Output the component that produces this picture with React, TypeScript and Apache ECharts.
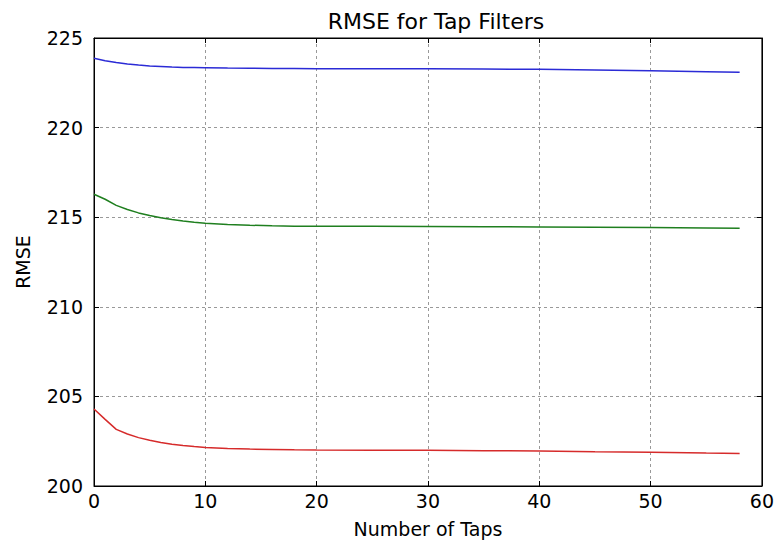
import React, { useEffect, useRef } from "react";
import * as echarts from "echarts";

const taps = [0, 1, 2, 3, 4, 5, 6, 7, 8, 9, 10, 12, 14, 16, 18, 20, 25, 30, 35, 40, 45, 50, 55, 58];
const blueRmse = [223.87, 223.73, 223.63, 223.55, 223.49, 223.44, 223.41, 223.38, 223.36, 223.35, 223.34, 223.32, 223.31, 223.3, 223.3, 223.29, 223.29, 223.28, 223.27, 223.25, 223.21, 223.17, 223.12, 223.09];
const greenRmse = [216.28, 216.0, 215.66, 215.43, 215.24, 215.09, 214.97, 214.87, 214.79, 214.72, 214.66, 214.59, 214.55, 214.52, 214.5, 214.49, 214.49, 214.48, 214.47, 214.46, 214.44, 214.42, 214.4, 214.38];
const redRmse = [204.3, 203.72, 203.16, 202.9, 202.7, 202.55, 202.43, 202.33, 202.26, 202.2, 202.15, 202.09, 202.06, 202.04, 202.02, 202.01, 202.0, 201.99, 201.97, 201.95, 201.91, 201.88, 201.84, 201.82];

const xTicks = [0, 10, 20, 30, 40, 50, 60];
const yTicks = [200, 205, 210, 215, 220, 225];

const FONT = "DejaVu Sans";

export default function App() {
  const ref = useRef<HTMLDivElement>(null);
  useEffect(() => {
    if (!ref.current) return;
    const chart = echarts.init(ref.current, null, { renderer: "svg" });
    const pair = (arr: number[]) => taps.map((t, i) => [t, arr[i]]);
    const axisCommon = {
      axisLine: { show: true, onZero: false, lineStyle: { color: "#000", width: 1 } },
      axisTick: { show: true, inside: true, length: 5, lineStyle: { color: "#000" } },
    };
    chart.setOption({
      animation: false,
      backgroundColor: "#fff",
      title: {
        text: "RMSE for Tap Filters",
        left: 431,
        textAlign: "center",
        top: 5,
        textStyle: { fontFamily: FONT, fontSize: 22, fontWeight: "normal", color: "#000" },
      },
      grid: { left: 94, right: 12, top: 38, bottom: 57, show: true, borderColor: "#000", borderWidth: 1 },
      xAxis: [
        {
          type: "value",
          min: xTicks[0],
          max: xTicks[xTicks.length - 1],
          interval: 10,
          name: "Number of Taps",
          nameLocation: "middle",
          nameGap: 33,
          nameTextStyle: { fontFamily: FONT, fontSize: 19, color: "#000" },
          ...axisCommon,
          axisLabel: { fontFamily: FONT, fontSize: 19, color: "#000", margin: 5 },
          splitLine: { show: true, lineStyle: { color: "#999", type: [3, 3], width: 1 } },
        },
        {
          type: "value",
          position: "top",
          min: xTicks[0],
          max: xTicks[xTicks.length - 1],
          interval: 10,
          ...axisCommon,
          axisLabel: { show: false },
          splitLine: { show: false },
        },
      ],
      yAxis: [
        {
          type: "value",
          min: yTicks[0],
          max: yTicks[yTicks.length - 1],
          interval: 5,
          name: "RMSE",
          nameLocation: "middle",
          nameGap: 62,
          nameRotate: 90,
          nameTextStyle: { fontFamily: FONT, fontSize: 19, color: "#000" },
          ...axisCommon,
          axisLabel: { fontFamily: FONT, fontSize: 19, color: "#000", margin: 11 },
          splitLine: { show: true, lineStyle: { color: "#999", type: [3, 3], width: 1 } },
        },
        {
          type: "value",
          position: "right",
          min: yTicks[0],
          max: yTicks[yTicks.length - 1],
          interval: 5,
          ...axisCommon,
          axisLabel: { show: false },
          splitLine: { show: false },
        },
      ],
      series: [
        { type: "line", data: pair(blueRmse), showSymbol: false, lineStyle: { color: "#2b2bd6", width: 1.5 }, itemStyle: { color: "#2b2bd6" } },
        { type: "line", data: pair(greenRmse), showSymbol: false, lineStyle: { color: "#1f7f1f", width: 1.5 }, itemStyle: { color: "#1f7f1f" } },
        { type: "line", data: pair(redRmse), showSymbol: false, lineStyle: { color: "#d62b2b", width: 1.5 }, itemStyle: { color: "#d62b2b" } },
      ],
    });
    return () => chart.dispose();
  }, []);
  return <div ref={ref} style={{ width: 777, height: 543, position: "absolute", left: 0, top: 0 }} />;
}
